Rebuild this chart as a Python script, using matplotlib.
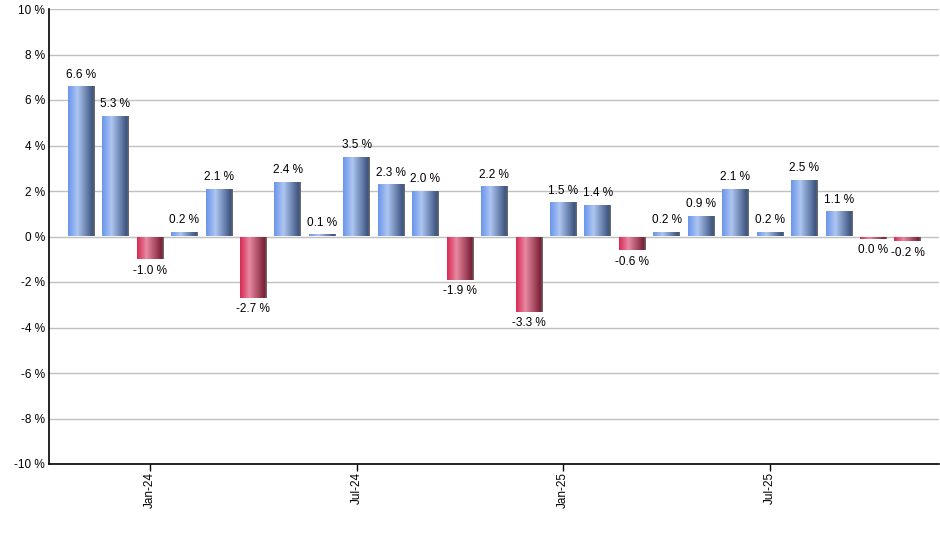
import matplotlib.pyplot as plt
import numpy as np
from matplotlib.colors import LinearSegmentedColormap

months = ["Nov-23", "Dec-23", "Jan-24", "Feb-24", "Mar-24", "Apr-24", "May-24",
          "Jun-24", "Jul-24", "Aug-24", "Sep-24", "Oct-24", "Nov-24", "Dec-24",
          "Jan-25", "Feb-25", "Mar-25", "Apr-25", "May-25", "Jun-25", "Jul-25",
          "Aug-25", "Sep-25", "Oct-25", "Nov-25"]
values = [6.6, 5.3, -1.0, 0.2, 2.1, -2.7, 2.4, 0.1, 3.5, 2.3, 2.0, -1.9, 2.2,
          -3.3, 1.5, 1.4, -0.6, 0.2, 0.9, 2.1, 0.2, 2.5, 1.1, -0.04, -0.2]
labels = ["6.6 %", "5.3 %", "-1.0 %", "0.2 %", "2.1 %", "-2.7 %", "2.4 %",
          "0.1 %", "3.5 %", "2.3 %", "2.0 %", "-1.9 %", "2.2 %", "-3.3 %",
          "1.5 %", "1.4 %", "-0.6 %", "0.2 %", "0.9 %", "2.1 %", "0.2 %",
          "2.5 %", "1.1 %", "0.0 %", "-0.2 %"]
tick_months = ["Jan-24", "Jul-24", "Jan-25", "Jul-25"]
yticks = [-10, -8, -6, -4, -2, 0, 2, 4, 6, 8, 10]

plt.rcParams['font.family'] = ['Liberation Sans', 'DejaVu Sans']

blue_cm = LinearSegmentedColormap.from_list(
    "b", [(0, "#6a96ec"), (0.35, "#aec6f2"), (0.92, "#3d5580"), (1.0, "#6e6e6e")])
red_cm = LinearSegmentedColormap.from_list(
    "r", [(0, "#d82a55"), (0.35, "#e88aa2"), (0.92, "#7a2035"), (1.0, "#6e6e6e")])

fig = plt.figure(figsize=(9.4, 5.5), dpi=100)
ax = fig.add_axes([49 / 940, 1 - 464 / 550, 890 / 940, 455 / 550])

x = np.arange(len(values))
w = 0.77
min_h = 0.1
shown = [v if abs(v) >= min_h else np.sign(v) * min_h for v in values]
bars = ax.bar(x, shown, width=w, color="none", edgecolor="none", zorder=3)
grad = np.linspace(0, 1, 64).reshape(1, -1)
for xi, v, b in zip(x, shown, bars):
    cm = blue_cm if v >= 0 else red_cm
    y0, y1 = (0, v) if v >= 0 else (v, 0)
    im = ax.imshow(grad, cmap=cm, aspect="auto", extent=[xi - w / 2, xi + w / 2, y0, y1],
                   zorder=3, interpolation="bilinear")
    im.set_clip_path(b)

for xi, v, lab in zip(x, shown, labels):
    if v >= 0:
        ax.annotate(lab, (xi, v), xytext=(0, 4), textcoords="offset points",
                    ha="center", va="bottom", fontsize=8.5)
    else:
        ax.annotate(lab, (xi, v), xytext=(0, -4), textcoords="offset points",
                    ha="center", va="top", fontsize=8.5)

ax.set_xlim(-0.93, 24.91)
ax.set_ylim(-10, 10)
ax.set_yticks(yticks)
ax.set_yticklabels([f"{t} %" for t in yticks], fontsize=8.5)
ax.set_xticks([months.index(m) for m in tick_months])
ax.set_xticklabels(tick_months, rotation=90, fontsize=8.5)
ax.tick_params(axis="x", length=5, width=1, direction="out", pad=1)
ax.tick_params(axis="y", length=0, pad=3)
ax.grid(axis="y", color="#c0c0c0", linewidth=1, zorder=0)
ax.set_axisbelow(True)
for s in ["top", "right"]:
    ax.spines[s].set_visible(False)
for s in ["left", "bottom"]:
    ax.spines[s].set_linewidth(1.2)

fig.savefig("out.png", dpi=100)
